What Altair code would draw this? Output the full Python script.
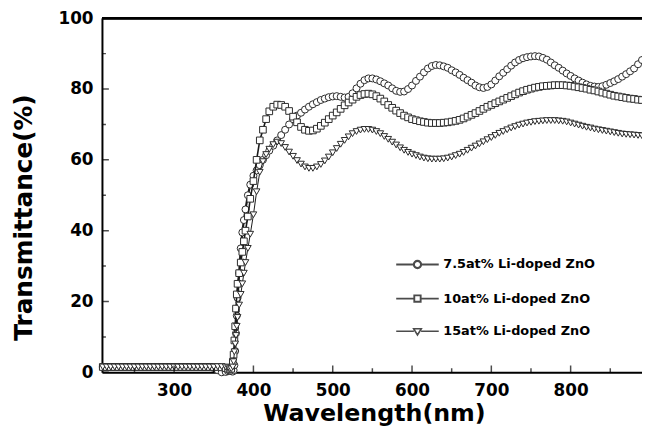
import altair as alt
import pandas as pd

SERIES = ["7.5at% Li-doped ZnO", "10at% Li-doped ZnO", "15at% Li-doped ZnO"]

WAVELENGTH = [
    210, 215, 220, 225, 230, 235, 240, 245, 250, 255,
    260, 265, 270, 275, 280, 285, 290, 295, 300, 305,
    310, 315, 320, 325, 330, 335, 340, 345, 350, 355,
    360, 365,
    368, 370, 372, 374, 375, 376, 377, 378, 379, 380,
    382, 384, 386, 388, 390, 393, 396, 400,
    404, 408, 412, 416, 420,
    425, 430, 435, 440, 445, 450, 455, 460, 465, 470,
    475, 480, 485, 490, 495, 500, 505, 510, 515, 520,
    525, 530, 535, 540, 545, 550, 555, 560, 565, 570,
    575, 580, 585, 590, 595, 600, 605, 610, 615, 620,
    625, 630, 635, 640, 645, 650, 655, 660, 665, 670,
    675, 680, 685, 690, 695, 700, 705, 710, 715, 720,
    725, 730, 735, 740, 745, 750, 755, 760, 765, 770,
    775, 780, 785, 790, 795, 800, 805, 810, 815, 820,
    825, 830, 835, 840, 845, 850, 855, 860, 865, 870,
    875, 880, 885, 890,
]

T_75 = [
    1.5, 1.5, 1.5, 1.5, 1.5, 1.5, 1.5, 1.5, 1.5, 1.5,
    1.5, 1.5, 1.5, 1.5, 1.5, 1.5, 1.5, 1.5, 1.5, 1.5,
    1.5, 1.5, 1.5, 1.5, 1.5, 1.5, 1.5, 1.5, 1.2, 0.6,
    0.0, 0.1,
    0.3, 0.5, 0.3, 0.2, 0.6, 2, 6, 11, 16, 21,
    28, 35, 39.5, 43, 46, 50, 53, 55.5,
    57, 58.5, 60, 61.3, 62.6,
    64, 65.5, 67, 68.5, 70, 71.5, 72.5, 73.3, 74.2, 75,
    75.7, 76.3, 76.9, 77.3, 77.7, 77.9, 78, 77.8, 77.6, 77.8,
    78.8, 80.2, 81.5, 82.5, 83, 83, 82.7, 82.2, 81.6, 81,
    80.2, 79.5, 79.2, 79.3, 80, 81, 82.3, 83.5, 84.7, 85.8,
    86.5, 86.8, 86.7, 86.4, 86, 85.3, 84.7, 84, 83.2, 82.5,
    81.8, 81, 80.5, 80.3, 80.6, 81.3, 82.4, 83.6, 84.6, 85.6,
    86.6, 87.5, 88.2, 88.7, 89, 89.2, 89.3, 89.2, 88.8, 88.3,
    87.5, 86.7, 86, 85.2, 84.4, 83.7, 83, 82.4, 81.8, 81.3,
    80.9, 80.7, 80.6, 80.8, 81.2, 81.7, 82.2, 82.8, 83.5, 84.2,
    85, 85.8, 87, 88.2,
]

T_10 = [
    1.5, 1.5, 1.5, 1.5, 1.5, 1.5, 1.5, 1.5, 1.5, 1.5,
    1.5, 1.5, 1.5, 1.5, 1.5, 1.5, 1.5, 1.5, 1.5, 1.5,
    1.5, 1.5, 1.5, 1.5, 1.5, 1.5, 1.5, 1.5, 1.5, 1.5,
    1.4, 1.2,
    1.0, 0.8, 1.0, 3, 5, 9, 13, 18, 22, 25,
    28, 31, 34, 37, 40, 44, 49, 54,
    60, 65.5, 68.5, 71.5, 73.7,
    75, 75.6, 75.5, 75, 73.8, 72.2, 70.6, 69.3, 68.5, 68.2,
    68.3, 68.8, 69.6, 70.5, 71.5, 72.5, 73.4, 74.4, 75.4, 76.2,
    77, 77.8, 78.3, 78.6, 78.7, 78.5, 78, 77.3, 76.5, 75.5,
    74.7, 73.9, 73.2, 72.5, 72, 71.5, 71.2, 70.9, 70.7, 70.5,
    70.4, 70.4, 70.4, 70.5, 70.6, 70.8, 71, 71.3, 71.7, 72.2,
    72.7, 73.2, 73.8, 74.4, 75, 75.5, 76, 76.5, 77, 77.5,
    78, 78.5, 79, 79.4, 79.8, 80.1, 80.4, 80.6, 80.8, 80.9,
    81, 81.1, 81.1, 81.1, 81, 80.9, 80.7, 80.5, 80.3, 80.1,
    79.8, 79.6, 79.3, 79, 78.7, 78.4, 78.1, 77.9, 77.7, 77.5,
    77.3, 77.2, 77, 76.9,
]

T_15 = [
    1.5, 1.5, 1.5, 1.5, 1.5, 1.5, 1.5, 1.5, 1.5, 1.5,
    1.5, 1.5, 1.5, 1.5, 1.5, 1.5, 1.5, 1.5, 1.5, 1.5,
    1.5, 1.5, 1.5, 1.5, 1.5, 1.5, 1.5, 1.5, 1.5, 1.6,
    1.6, 1.5,
    1.3, 1.0, 1.0, 1.5, 3, 5.8, 8, 10.4, 13, 15.5,
    19, 22, 25, 28, 31, 35, 39, 44.5,
    51, 56.5, 59.5, 61.5, 63,
    64.3, 65, 64.6, 63.5, 62.2, 61, 59.8, 58.8, 58, 57.6,
    57.6, 58, 58.7, 59.7, 60.8, 62, 63.2, 64.4, 65.5, 66.5,
    67.4, 68, 68.4, 68.6, 68.6, 68.4, 68, 67.4, 66.6, 65.8,
    65, 64.2, 63.4, 62.7, 62.1, 61.6, 61.2, 60.8, 60.5, 60.3,
    60.2, 60.2, 60.2, 60.3, 60.5, 60.8, 61.2, 61.6, 62.1, 62.7,
    63.3, 63.9, 64.5, 65.1, 65.7, 66.3, 66.9, 67.5, 68, 68.5,
    69, 69.4, 69.8, 70.1, 70.4, 70.6, 70.8, 70.9, 71, 71.1,
    71.1, 71.1, 71, 70.9, 70.7, 70.4, 70.1, 69.8, 69.5, 69.2,
    69, 68.7, 68.5, 68.3, 68.1, 67.9, 67.7, 67.5, 67.3, 67.2,
    67.1, 67, 66.9, 66.8,
]

X_TICKS = [300, 400, 500, 600, 700, 800]
X_MINOR = [250, 350, 450, 550, 650, 750, 850]
Y_TICKS = [0, 20, 40, 60, 80, 100]
Y_MINOR = [10, 30, 50, 70, 90]

assert len(WAVELENGTH) == len(T_75) == len(T_10) == len(T_15)

rows = []
for name, vals in zip(SERIES, [T_75, T_10, T_15]):
    for w, t in zip(WAVELENGTH, vals):
        rows.append({"series": name, "wl": w, "T": t})
df = pd.DataFrame(rows)

FONT = "DejaVu Sans"
W, H = 546, 358
X_MIN, X_MAX = 209, 890
XS = alt.Scale(domain=[X_MIN, X_MAX], nice=False, zero=False)
YS = alt.Scale(domain=[0, 100], nice=False, zero=False)

main_x = alt.Axis(orient="bottom", values=X_TICKS, ticks=False, grid=False,
                  domain=True, domainColor="black", domainWidth=2,
                  labelFont=FONT, labelFontWeight="bold", labelFontSize=17,
                  labelColor="black", labelPadding=10, labelFlush=False,
                  title="Wavelength(nm)", titleFont=FONT, titleFontWeight="bold",
                  titleFontSize=24, titleColor="black", titleX=275, titleY=49,
                  titleBaseline="alphabetic", titleAlign="center")
main_y = alt.Axis(orient="left", values=Y_TICKS, ticks=False, grid=False,
                  domain=True, domainColor="black", domainWidth=2,
                  labelFont=FONT, labelFontWeight="bold", labelFontSize=17,
                  labelColor="black", labelPadding=9, labelFlush=False,
                  title="Transmittance(%)", titleFont=FONT, titleFontWeight="bold",
                  titleFontSize=25, titleColor="black", titleAngle=270,
                  titleX=-71, titleY=201, titleBaseline="alphabetic",
                  titleAlign="center")


def xe(axis):
    return alt.X("wl:Q", scale=XS, axis=axis)


def ye(axis):
    return alt.Y("T:Q", scale=YS, axis=axis)


base = alt.Chart(df)
shapes = ["circle", "square", "triangle-down"]
line_w = [2.2, 1.6, 1.0]
sizes = [50, 45, 45]

layers = []
for i, name in enumerate(SERIES):
    sub = base.transform_filter(alt.datum.series == name)
    if i == 0:
        ax, ay = main_x, main_y
    else:
        ax, ay = None, None
    layers.append(sub.mark_line(color="#1a1a1a", strokeWidth=line_w[i]).encode(
        x=xe(ax), y=ye(ay), order="wl:Q"))
    layers.append(sub.mark_point(shape=shapes[i], filled=True, fill="white",
                                 stroke="#2a2a2a", strokeWidth=1, size=sizes[i],
                                 opacity=1).encode(x=xe(None), y=ye(None)))

# inward ticks (clipped to the plot so only the inner half shows)
xt_major = pd.DataFrame({"v": X_TICKS})
xt_minor = pd.DataFrame({"v": X_MINOR})
yt_major = pd.DataFrame({"v": Y_TICKS})
yt_minor = pd.DataFrame({"v": Y_MINOR})

tick_layers = [
    alt.Chart(xt_major).mark_tick(orient="vertical", size=14, thickness=1.5,
                                  color="black", clip=True).encode(
        x=alt.X("v:Q", scale=XS, axis=None), y=alt.YDatum(0, scale=YS, axis=None)),
    alt.Chart(xt_minor).mark_tick(orient="vertical", size=8, thickness=1.5,
                                  color="black", clip=True).encode(
        x=alt.X("v:Q", scale=XS, axis=None), y=alt.YDatum(0, scale=YS, axis=None)),
    alt.Chart(yt_major).mark_tick(orient="horizontal", size=14, thickness=1.5,
                                  color="black", clip=True).encode(
        y=alt.Y("v:Q", scale=YS, axis=None), x=alt.XDatum(X_MIN, scale=XS, axis=None)),
    alt.Chart(yt_minor).mark_tick(orient="horizontal", size=8, thickness=1.5,
                                  color="black", clip=True).encode(
        y=alt.Y("v:Q", scale=YS, axis=None), x=alt.XDatum(X_MIN, scale=XS, axis=None)),
]

top_rule = alt.Chart(yt_major).mark_rule(color="black", strokeWidth=2).encode(
    y=alt.YDatum(100, scale=YS, axis=None))

PATHS = [
    "M-1,0L-0.17,0M0.17,0L1,0M0.17,0A0.17,0.17,0,1,1,-0.17,0A0.17,0.17,0,1,1,0.17,0Z",
    "M-1,0L-0.15,0M0.15,0L1,0M-0.15,-0.15L0.15,-0.15L0.15,0.15L-0.15,0.15Z",
    "M-1,0L-0.17,0M0.17,0L1,0M-0.18,-0.12L0.18,-0.12L0,0.17Z",
]

leg = alt.Legend(orient="none", legendX=296, legendY=226, title=None,
                 labelFont=FONT, labelFontWeight="bold", labelFontSize=13,
                 labelColor="black", symbolSize=1849, labelOffset=3,
                 rowPadding=3, symbolStrokeColor="black",
                 symbolFillColor="transparent")

legend_layer = alt.Chart(df).transform_filter("false").mark_point(
    filled=False, color="black").encode(
    x=xe(None), y=ye(None),
    shape=alt.Shape("series:N", scale=alt.Scale(domain=SERIES, range=PATHS), legend=leg),
    strokeWidth=alt.StrokeWidth("series:N", scale=alt.Scale(domain=SERIES, range=line_w), legend=leg),
)

chart = alt.layer(*layers, *tick_layers, top_rule, legend_layer).resolve_axis(
    x="independent", y="independent").properties(
    width=W, height=H,
    autosize=alt.AutoSizeParams(type="none"),
    padding={"left": 95, "top": 8, "right": 0, "bottom": 56},
).configure_view(strokeWidth=0).configure(background="white")

chart.save("out.html", embed_options={"renderer": "svg", "actions": False})
